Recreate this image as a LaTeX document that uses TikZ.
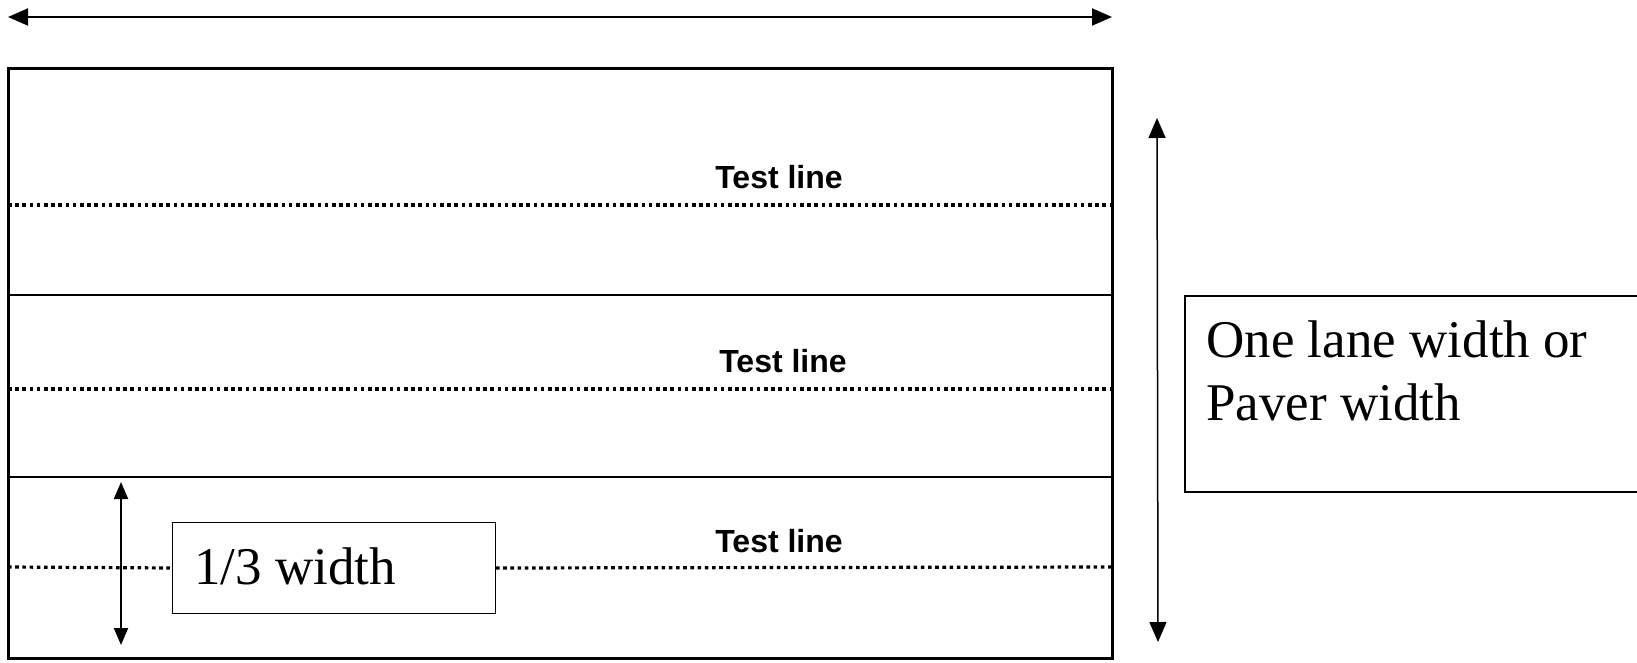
\documentclass[tikz,border=0pt]{standalone}
\usepackage{fontspec}
\setmainfont{Liberation Serif}
\newfontfamily\arialfont{Liberation Sans}
\usetikzlibrary{arrows.meta}
\begin{document}
\begin{tikzpicture}[x=0.5pt,y=-0.5pt,
  frame/.style={line width=1.5pt},
  lane/.style={line width=1pt},
  testline/.style={line width=1.6pt, dash pattern=on 1.8pt off 1.8pt},
  dimarrow/.style={{Triangle[length=10pt,width=8.5pt]}-{Triangle[length=10pt,width=8.5pt]}},
  tlabel/.style={font=\arialfont\bfseries\fontsize{16}{18}\selectfont, inner sep=0},
  big/.style={font=\fontsize{26.5}{31.5}\selectfont, inner sep=0}]
\useasboundingbox (0,0) rectangle (1637,663);
% outer frame and lanes
\draw[frame] (8,69) rectangle (1112,658);
\draw[lane] (8,295) -- (1112,295);
\draw[lane] (8,477) -- (1112,477);
% top dimension arrow
\coordinate (topL) at (8,17);
\coordinate (topR) at (1112,17);
\draw[line width=1pt, dimarrow] (topL) -- (topR);
% right dimension arrow
\coordinate (rT) at (1157,118);
\coordinate (rB) at (1158,642);
\draw[line width=0.75pt, dimarrow] (rT) -- (rB);
% third width box
\node[draw, line width=0.5pt, minimum width=161.5pt, minimum height=45.5pt, inner sep=0, anchor=north west] (thirdbox) at (172,522) {};
\node[big, anchor=base west] (thirdtext) at (194,584) {1/3 width};
% test lines
\draw[testline] (8,205) -- (1112,205);
\draw[testline] (8,389) -- (1116,389);
\coordinate (bL) at (8,567);
\coordinate (bR) at (1112,567);
\draw[testline] (bL) -- (thirdbox.west);
\draw[testline] (thirdbox.east) -- (bR);
% left small arrow
\coordinate (sT) at (121,482);
\coordinate (sB) at (121,645);
\draw[line width=1pt, {Triangle[length=8.5pt,width=7pt]}-{Triangle[length=8.5pt,width=7pt]}] (sT) -- (sB);
% labels
\node[tlabel, anchor=base] (tl1) at (779,189) {Test line};
\node[tlabel, anchor=base] (tl2) at (783,372) {Test line};
\node[tlabel, anchor=base] (tl3) at (779,552) {Test line};
% lane box
\node[draw, line width=0.9pt, minimum width=250pt, minimum height=98pt, inner sep=0, anchor=north west] (lanebox) at (1184,295) {};
\node[big, anchor=base west] (lanetext1) at (1206,357) {One lane width or};
\node[big, anchor=base west] (lanetext2) at (1206,420) {Paver width};
\end{tikzpicture}
\end{document}
